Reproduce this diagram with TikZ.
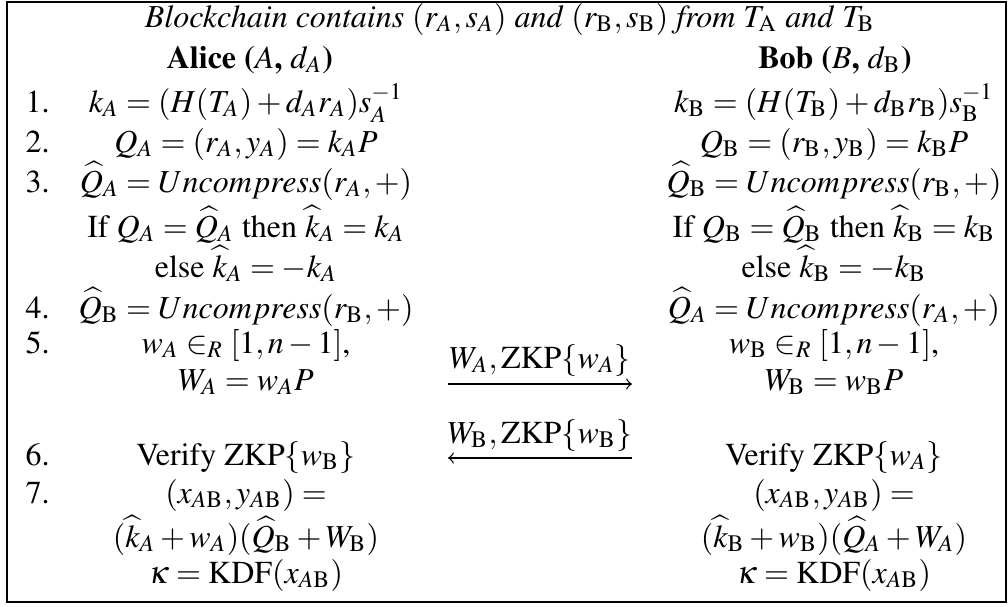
\documentclass[tikz,border=0pt]{standalone}
\usepackage[T1]{fontenc}
\usepackage{amsmath}
\usepackage{mathptmx}
\usetikzlibrary{arrows}

\tikzstyle{txt} = [anchor=base, inner sep=0pt]
\tikzstyle{num} = [anchor=base west, inner sep=0pt]
\tikzstyle{msg} = [->, >=to, line width=0.4pt]

\begin{document}
\begin{tikzpicture}[x=0.3125pt, y=-0.3125pt]
\useasboundingbox (0,0) rectangle (1008,606);
\draw[line width=0.45pt] (7,2) rectangle (1006,602);
\node[txt] (title) at (510,27) {\textit{Blockchain contains} $(r_A,s_A)$ \textit{and} $(r_\mathrm{B},s_\mathrm{B})$ \textit{from} $T_\mathrm{A}$ \textit{and} $T_\mathrm{B}$};
\node[txt] (alice) at (250,68) {\textbf{Alice ($A$, $d_A$)}};
\node[txt] (bob) at (835,68) {\textbf{Bob ($B$, $d_\mathrm{B}$)}};
\node[num] (n1) at (25,112) {1.};
\node[num] (n2) at (25,152) {2.};
\node[num] (n3) at (25,192) {3.};
\node[num] (n4) at (25,318) {4.};
\node[num] (n5) at (25,353) {5.};
\node[num] (n6) at (25,465) {6.};
\node[num] (n7) at (25,503) {7.};
\node[txt] (a1) at (246,112) {$k_A = (H(T_A)+d_Ar_A)s_A^{-1}$};
\node[txt] (a2) at (246,152) {$Q_A = (r_A,y_A) = k_AP$};
\node[txt] (a3) at (246,192) {$\widehat{Q}_A = Uncompress(r_A,+)$};
\node[txt] (a3b) at (246,237) {If $Q_A = \widehat{Q}_A$ then $\widehat{k}_A = k_A$};
\node[txt] (a3c) at (246,277) {else $\widehat{k}_A = -k_A$};
\node[txt] (a4) at (246,318) {$\widehat{Q}_\mathrm{B} = Uncompress(r_\mathrm{B},+)$};
\node[txt] (a5) at (246,353) {$w_A \in_R [1,n-1]$,};
\node[txt] (a5b) at (246,390) {$W_A = w_AP$};
\node[txt] (a6) at (246,465) {Verify ZKP$\{w_\mathrm{B}\}$};
\node[txt] (a7) at (246,503) {$(x_{A\mathrm{B}},y_{A\mathrm{B}}) =$};
\node[txt] (a7b) at (246,547) {$(\widehat{k}_A+w_A)(\widehat{Q}_\mathrm{B}+W_\mathrm{B})$};
\node[txt] (a7c) at (246,583) {$\kappa = \mathrm{KDF}(x_{A\mathrm{B}})$};
\node[txt] (b1) at (834,112) {$k_\mathrm{B} = (H(T_\mathrm{B})+d_\mathrm{B}r_\mathrm{B})s_\mathrm{B}^{-1}$};
\node[txt] (b2) at (834,152) {$Q_\mathrm{B} = (r_\mathrm{B},y_\mathrm{B}) = k_\mathrm{B}P$};
\node[txt] (b3) at (834,192) {$\widehat{Q}_\mathrm{B} = Uncompress(r_\mathrm{B},+)$};
\node[txt] (b3b) at (834,237) {If $Q_\mathrm{B} = \widehat{Q}_\mathrm{B}$ then $\widehat{k}_\mathrm{B} = k_\mathrm{B}$};
\node[txt] (b3c) at (834,277) {else $\widehat{k}_\mathrm{B} = -k_\mathrm{B}$};
\node[txt] (b4) at (834,318) {$\widehat{Q}_A = Uncompress(r_A,+)$};
\node[txt] (b5) at (834,353) {$w_\mathrm{B} \in_R [1,n-1]$,};
\node[txt] (b5b) at (834,390) {$W_\mathrm{B} = w_\mathrm{B}P$};
\node[txt] (b6) at (834,465) {Verify ZKP$\{w_A\}$};
\node[txt] (b7) at (834,503) {$(x_{A\mathrm{B}},y_{A\mathrm{B}}) =$};
\node[txt] (b7b) at (834,547) {$(\widehat{k}_\mathrm{B}+w_\mathrm{B})(\widehat{Q}_A+W_A)$};
\node[txt] (b7c) at (834,583) {$\kappa = \mathrm{KDF}(x_{A\mathrm{B}})$};
\coordinate (s1) at (448,384);
\coordinate (e1) at (632,384);
\coordinate (s2) at (632,458);
\coordinate (e2) at (448,458);
\node[txt] (m1) at (540,368) {$W_A,\mathrm{ZKP}\{w_A\}$};
\node[txt] (m2) at (540,443) {$W_\mathrm{B},\mathrm{ZKP}\{w_\mathrm{B}\}$};
\draw[msg] (s1) -- (e1);
\draw[msg] (s2) -- (e2);
\end{tikzpicture}
\end{document}
